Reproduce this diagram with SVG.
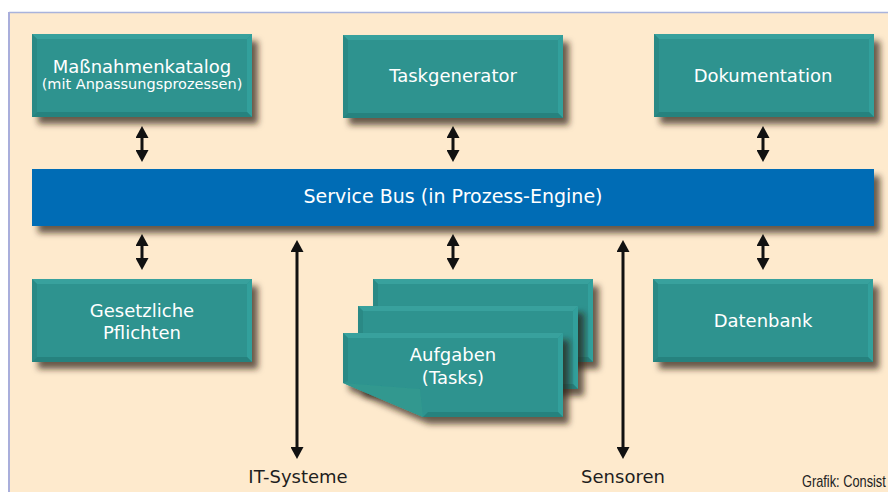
<svg xmlns="http://www.w3.org/2000/svg" width="888" height="492" viewBox="0 0 888 492">
  <style>
    .lbl { font-family: "DejaVu Sans", Verdana, sans-serif; fill: #ffffff; text-anchor: middle; }
    .ext { font-family: "DejaVu Sans", Verdana, sans-serif; fill: #1e1e1e; text-anchor: middle; font-size: 18px; }
    .wire { stroke: #111111; stroke-width: 3; fill: none; }
  </style>
  <defs>
    <filter id="drop" x="-10%" y="-20%" width="130%" height="150%">
      <feDropShadow dx="6" dy="7" stdDeviation="3" flood-color="#2a1e0e" flood-opacity="0.7"/>
    </filter>
    <marker id="head" viewBox="0 0 12 13" refX="6" refY="6.5" markerWidth="12" markerHeight="13" markerUnits="userSpaceOnUse" orient="auto-start-reverse">
      <path d="M0,0 L12,6.5 L0,13 Z" fill="#111111"/>
    </marker>
    <!-- bevelled teal tile, 220 x 83 -->
    <g id="tile">
      <rect x="0" y="0" width="220" height="83" fill="#2d938f"/>
      <polygon points="0,0 220,0 215,5 5,5" fill="#38a19d"/>
      <polygon points="0,0 5,5 5,78 0,83" fill="#2a8985"/>
      <polygon points="220,0 220,83 215,78 215,5" fill="#33a09c"/>
      <polygon points="0,83 5,78 215,78 220,83" fill="#27827e"/>
    </g>
  </defs>

  <!-- page background -->
  <rect x="0" y="0" width="888" height="492" fill="#ffffff"/>
  <rect x="9" y="12" width="879" height="480" fill="#feeacd"/>
  <line x1="9" y1="12.5" x2="888" y2="12.5" stroke="#a9b3dc" stroke-width="1.5"/>
  <line x1="9" y1="12" x2="9" y2="492" stroke="#a9aedb" stroke-width="2"/>

  <g id="massnahmenkatalog">
    <use href="#tile" x="32" y="34" filter="url(#drop)"/>
    <text class="lbl" x="142" y="73" font-size="18">Maßnahmenkatalog</text>
    <text class="lbl" x="142" y="89" font-size="14.5">(mit Anpassungsprozessen)</text>
  </g>

  <g id="taskgenerator">
    <use href="#tile" x="343" y="35" filter="url(#drop)"/>
    <text class="lbl" x="453" y="82" font-size="18">Taskgenerator</text>
  </g>

  <g id="dokumentation">
    <use href="#tile" x="654" y="34" filter="url(#drop)"/>
    <text class="lbl" x="763" y="82" font-size="18">Dokumentation</text>
  </g>

  <g id="service-bus">
    <rect x="32" y="169" width="842" height="57" fill="#006cb5" filter="url(#drop)"/>
    <text class="lbl" x="453" y="203" font-size="19">Service Bus (in Prozess-Engine)</text>
  </g>

  <g id="gesetzliche-pflichten">
    <use href="#tile" x="32" y="279" filter="url(#drop)"/>
    <text class="lbl" x="142" y="317" font-size="18">Gesetzliche</text>
    <text class="lbl" x="142" y="339" font-size="18">Pflichten</text>
  </g>

  <g id="aufgaben">
    <use href="#tile" x="373" y="279" filter="url(#drop)"/>
    <use href="#tile" x="358" y="306" filter="url(#drop)"/>
    <!-- front sheet with a curled lower-left corner -->
    <g filter="url(#drop)">
      <path d="M343,333 H563 V417 H423 L343,383 Z" fill="#2d938f"/>
      <polygon points="343,333 563,333 558,338 348,338" fill="#38a19d"/>
      <polygon points="563,333 563,417 558,412 558,338" fill="#33a09c"/>
      <polygon points="343,333 348,338 348,381 343,383" fill="#2a8985"/>
      <polygon points="423,417 428,412 558,412 563,417" fill="#27827e"/>
      <polygon points="343,383 420,389 423,417" fill="#31998f" fill-opacity="0.9"/>
    </g>
    <text class="lbl" x="453" y="361" font-size="18">Aufgaben</text>
    <text class="lbl" x="453" y="384" font-size="18">(Tasks)</text>
  </g>

  <g id="datenbank">
    <use href="#tile" x="653" y="279" filter="url(#drop)"/>
    <text class="lbl" x="763" y="327" font-size="18">Datenbank</text>
  </g>

  <g id="connectors">
    <line class="wire" x1="142" y1="132" x2="142" y2="156" marker-start="url(#head)" marker-end="url(#head)"/>
    <line class="wire" x1="453" y1="132" x2="453" y2="156" marker-start="url(#head)" marker-end="url(#head)"/>
    <line class="wire" x1="763" y1="132" x2="763" y2="156" marker-start="url(#head)" marker-end="url(#head)"/>
    <line class="wire" x1="142" y1="240" x2="142" y2="264" marker-start="url(#head)" marker-end="url(#head)"/>
    <line class="wire" x1="453" y1="240" x2="453" y2="264" marker-start="url(#head)" marker-end="url(#head)"/>
    <line class="wire" x1="763" y1="240" x2="763" y2="264" marker-start="url(#head)" marker-end="url(#head)"/>
    <line class="wire" x1="297" y1="246" x2="297" y2="453" marker-start="url(#head)" marker-end="url(#head)"/>
    <line class="wire" x1="623" y1="246" x2="623" y2="453" marker-start="url(#head)" marker-end="url(#head)"/>
  </g>

  <g id="labels">
    <text class="ext" x="298" y="483">IT-Systeme</text>
    <text class="ext" x="623" y="483">Sensoren</text>
    <text x="0" y="0" transform="translate(802,487) scale(0.8,1)" font-family="'Liberation Sans', Arial, sans-serif" font-size="16" fill="#222222">Grafik: Consist</text>
  </g>
</svg>
